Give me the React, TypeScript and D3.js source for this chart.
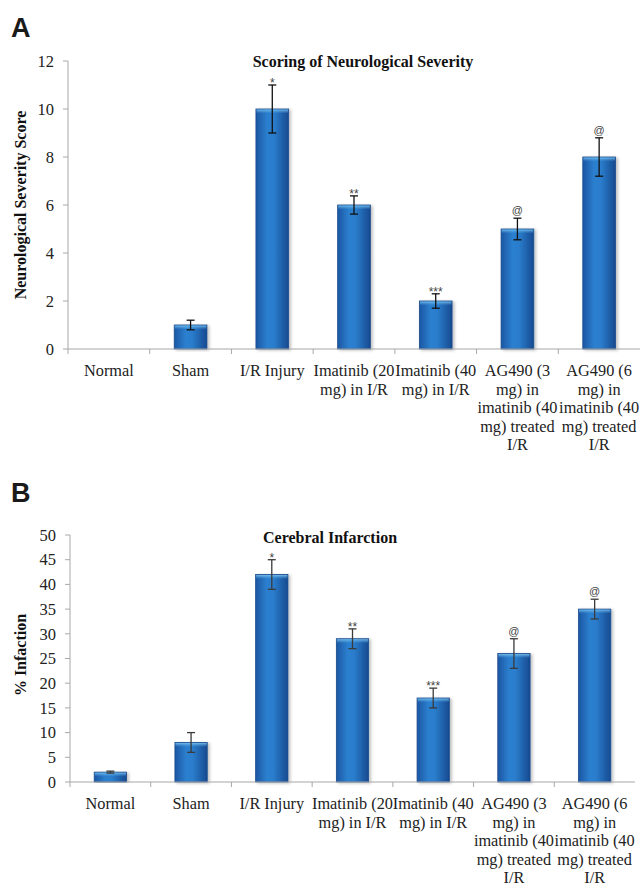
import { useRef, useEffect } from "react";
import * as d3 from "d3";

// category labels, already broken the way the original chart wraps them
const categories = [
  ["Normal"],
  ["Sham"],
  ["I/R Injury"],
  ["Imatinib (20", "mg) in I/R"],
  ["Imatinib (40", "mg) in I/R"],
  ["AG490 (3", "mg) in", "imatinib (40", "mg) treated", "I/R"],
  ["AG490 (6", "mg) in", "imatinib (40", "mg) treated", "I/R"],
];

// panel A - neurological severity score
const severityMean = [0, 1, 10, 6, 2, 5, 8];
const severityErr = [0, 0.2, 1, 0.38, 0.3, 0.45, 0.8];

// panel B - % infarction
const infarctMean = [2, 8, 42, 29, 17, 26, 35];
const infarctErr = [0.2, 2, 3, 2, 2, 3, 2];

const significance = ["", "", "*", "**", "***", "@", "@"];

const severityTicks = [0, 2, 4, 6, 8, 10, 12];
const infarctTicks = [0, 5, 10, 15, 20, 25, 30, 35, 40, 45, 50];

const serif = "'Liberation Serif', 'Times New Roman', serif";
const sans = "'Liberation Sans', Arial, sans-serif";

function drawPanel(svg, opts) {
  const { letter, letterY, title, titleX, titleY, yLabel, yLabelY, xRange, yRange, yMax, ticks, mean, err, errColor } = opts;

  const x = d3.scaleBand().domain(d3.range(categories.length)).range(xRange).paddingInner(0).paddingOuter(0);
  const y = d3.scaleLinear().domain([0, yMax]).range(yRange);
  const g = svg.append("g");
  const axisColor = "#a8a8a8";

  g.append("text")
    .attr("x", 11)
    .attr("y", letterY)
    .attr("font-family", sans)
    .attr("font-weight", "bold")
    .attr("font-size", 27)
    .attr("fill", "#1a1a1a")
    .text(letter);

  g.append("text")
    .attr("x", titleX)
    .attr("y", titleY)
    .attr("text-anchor", "middle")
    .attr("font-family", serif)
    .attr("font-weight", "bold")
    .attr("font-size", 16)
    .attr("fill", "#111")
    .text(title);

  g.append("text")
    .attr("transform", `translate(26, ${yLabelY}) rotate(-90)`)
    .attr("text-anchor", "middle")
    .attr("font-family", serif)
    .attr("font-weight", "bold")
    .attr("font-size", 16)
    .attr("fill", "#111")
    .text(yLabel);

  // y axis
  const x0 = xRange[0];
  g.append("line")
    .attr("x1", x0).attr("x2", x0)
    .attr("y1", y(yMax)).attr("y2", y(0))
    .attr("stroke", axisColor).attr("stroke-width", 1);
  ticks.forEach((t) => {
    g.append("line")
      .attr("x1", x0 - 5).attr("x2", x0)
      .attr("y1", y(t)).attr("y2", y(t))
      .attr("stroke", axisColor);
    g.append("text")
      .attr("x", x0 - 14)
      .attr("y", y(t))
      .attr("dy", "0.35em")
      .attr("text-anchor", "end")
      .attr("font-family", serif)
      .attr("font-size", 16.5)
      .attr("fill", "#222")
      .text(t);
  });

  // bars
  g.selectAll("g.bar")
    .data(mean)
    .join("g")
    .attr("class", "bar")
    .each(function (d, i) {
      if (d <= 0) return;
      const bw = x.bandwidth() * 0.4;
      const bx = x(i) + (x.bandwidth() - bw) / 2;
      const sel = d3.select(this);
      sel.append("rect")
        .attr("x", bx).attr("y", y(d))
        .attr("width", bw).attr("height", y(0) - y(d))
        .attr("fill", "url(#barGrad)")
        .attr("stroke", "#174a8c").attr("stroke-width", 0.8)
        .attr("filter", "url(#barShadow)");
      sel.append("rect")
        .attr("x", bx + 0.5).attr("y", y(d) + 0.5)
        .attr("width", bw - 1).attr("height", Math.min(4, y(0) - y(d) - 1))
        .attr("fill", "url(#bevelGrad)");
    });

  // x axis with boundary ticks
  g.append("line")
    .attr("x1", x0).attr("x2", xRange[1])
    .attr("y1", y(0)).attr("y2", y(0))
    .attr("stroke", axisColor).attr("stroke-width", 1.2);
  d3.range(categories.length).forEach((i) => {
    g.append("line")
      .attr("x1", x(i)).attr("x2", x(i))
      .attr("y1", y(0)).attr("y2", y(0) + 5)
      .attr("stroke", axisColor);
  });

  // error bars and significance marks
  mean.forEach((m, i) => {
    if (m <= 0) return;
    const cx = x(i) + x.bandwidth() / 2;
    const top = y(m + err[i]);
    const bot = y(m - err[i]);
    g.append("line").attr("x1", cx).attr("x2", cx).attr("y1", top).attr("y2", bot)
      .attr("stroke", errColor).attr("stroke-width", 1.3);
    [top, bot].forEach((yy) => {
      g.append("line").attr("x1", cx - 4).attr("x2", cx + 4).attr("y1", yy).attr("y2", yy)
        .attr("stroke", errColor).attr("stroke-width", 1.3);
    });
    if (significance[i]) {
      const isAt = significance[i] === "@";
      g.append("text")
        .attr("x", cx)
        .attr("y", isAt ? top - 4 : top + 2)
        .attr("text-anchor", "middle")
        .attr("font-family", sans)
        .attr("font-size", isAt ? 11 : 12)
        .attr("fill", "#444")
        .text(significance[i]);
    }
  });

  // category labels
  categories.forEach((lines, i) => {
    const cx = x(i) + x.bandwidth() / 2;
    const t = g.append("text")
      .attr("text-anchor", "middle")
      .attr("font-family", serif)
      .attr("font-size", 16.3)
      .attr("fill", "#222");
    lines.forEach((ln, k) => {
      t.append("tspan").attr("x", cx).attr("y", y(0) + 27 + k * 18.6).text(ln);
    });
  });
}

export default function App() {
  const ref = useRef(null);

  useEffect(() => {
    const svg = d3.select(ref.current);
    svg.selectAll("*").remove();

    const defs = svg.append("defs");
    const grad = defs.append("linearGradient").attr("id", "barGrad").attr("x1", 0).attr("x2", 1).attr("y1", 0).attr("y2", 0);
    grad.append("stop").attr("offset", "0%").attr("stop-color", "#1b56a3");
    grad.append("stop").attr("offset", "35%").attr("stop-color", "#2c80cf");
    grad.append("stop").attr("offset", "55%").attr("stop-color", "#2a7dcc");
    grad.append("stop").attr("offset", "100%").attr("stop-color", "#174a90");

    const bevel = defs.append("linearGradient").attr("id", "bevelGrad").attr("x1", 0).attr("x2", 0).attr("y1", 0).attr("y2", 1);
    bevel.append("stop").attr("offset", "0%").attr("stop-color", "#7cc3ee").attr("stop-opacity", 0.9);
    bevel.append("stop").attr("offset", "100%").attr("stop-color", "#4fa0de").attr("stop-opacity", 0);

    const shadow = defs.append("filter").attr("id", "barShadow").attr("x", "-20%").attr("y", "-5%").attr("width", "150%").attr("height", "115%");
    shadow.append("feDropShadow").attr("dx", 2).attr("dy", 1).attr("stdDeviation", 1.5).attr("flood-color", "#000").attr("flood-opacity", 0.25);

    drawPanel(svg, {
      letter: "A", letterY: 37,
      title: "Scoring of Neurological Severity", titleX: 363, titleY: 67,
      yLabel: "Neurological Severity Score", yLabelY: 205,
      xRange: [68, 640], yRange: [349, 61], yMax: 12, ticks: severityTicks,
      mean: severityMean, err: severityErr, errColor: "#111",
    });

    drawPanel(svg, {
      letter: "B", letterY: 502,
      title: "Cerebral Infarction", titleX: 330, titleY: 543,
      yLabel: "% Infaction", yLabelY: 655,
      xRange: [70, 635], yRange: [782, 535], yMax: 50, ticks: infarctTicks,
      mean: infarctMean, err: infarctErr, errColor: "#3a3a3a",
    });
  }, []);

  return (
    <svg
      ref={ref}
      width={640}
      height={883}
      style={{ position: "absolute", left: 0, top: 0, background: "#fff" }}
    />
  );
}
